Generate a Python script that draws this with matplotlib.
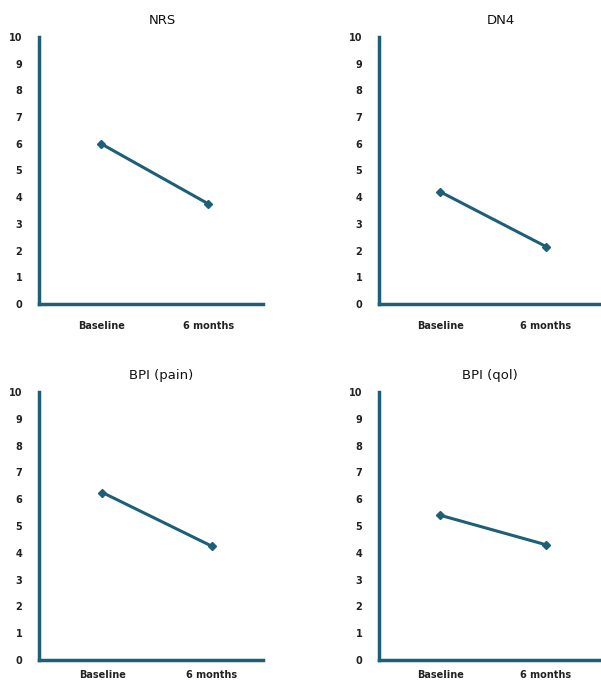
import matplotlib
matplotlib.use("Agg")
import matplotlib.pyplot as plt

categories = ["Baseline", "6 months"]
titles = ["NRS", "DN4", "BPI (pain)", "BPI (qol)"]
nrs = [6.0, 3.75]
dn4 = [4.2, 2.15]
bpi_pain = [6.25, 4.25]
bpi_qol = [5.4, 4.3]
series = [nrs, dn4, bpi_pain, bpi_qol]
yticks = list(range(0, 11))

color = "#1E5F78"
fig = plt.figure(figsize=(6.01, 6.81), dpi=100)

# axes rectangles (left, bottom, width, height) in figure fractions
rects = [
    (39/601, 1-304/681, 224/601, 267/681),
    (379/601, 1-304/681, 222/601, 267/681),
    (39/601, 1-660/681, 224/601, 268/681),
    (379/601, 1-660/681, 222/601, 268/681),
]
title_x = [0.55, 0.55, 0.545, 0.50]
xlims = [(-0.58, 1.51), (-0.58, 1.52), (-0.58, 1.47), (-0.58, 1.52)]
xpads = [12, 12, 7, 7]

for rect, title, vals, tx, xl, xp in zip(rects, titles, series, title_x, xlims, xpads):
    ax = fig.add_axes(rect)
    x = list(range(len(categories)))
    ax.plot(x, vals, color=color, lw=2.2, marker="D", ms=4.5, mec=color, mfc=color)
    ax.set_ylim(0, 10)
    ax.set_xlim(*xl)
    ax.set_yticks(yticks)
    ax.set_yticklabels([str(t) for t in yticks], fontsize=7, fontweight="bold", color="#222222")
    ax.set_xticks(x)
    ax.set_xticklabels(categories, fontsize=7, fontweight="bold", color="#222222")
    ax.tick_params(axis="y", length=0, pad=12)
    ax.tick_params(axis="x", length=0, pad=xp)
    for s in ["top", "right"]:
        ax.spines[s].set_visible(False)
    for s in ["left", "bottom"]:
        ax.spines[s].set_color(color)
        ax.spines[s].set_linewidth(2.5)
    ax.text(tx, 1.06, title, transform=ax.transAxes, ha="center", va="center",
            fontsize=9.5, color="#111111")
    ax.patch.set_alpha(0)

fig.savefig("out.png", dpi=100, facecolor="white")
